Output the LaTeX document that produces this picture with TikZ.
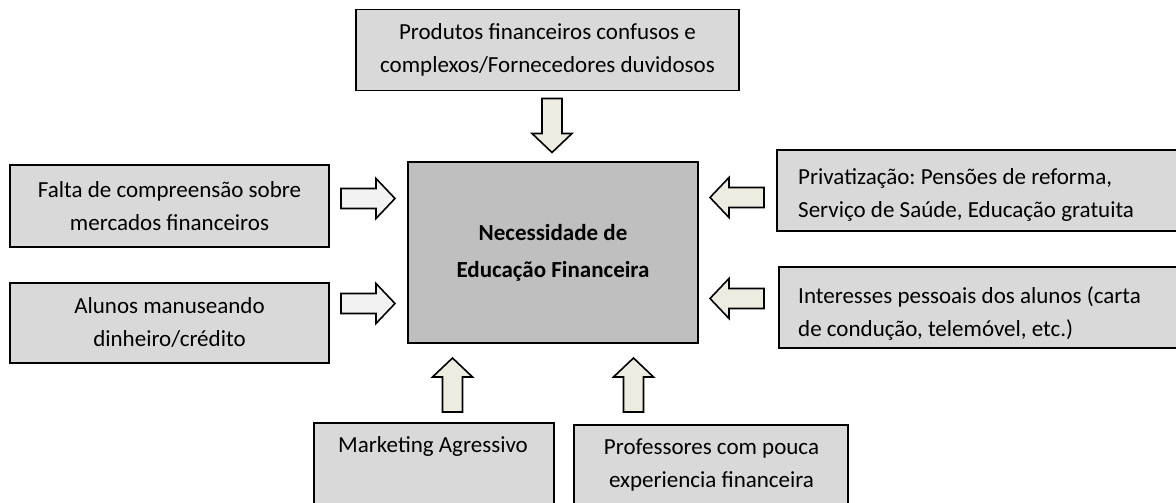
\documentclass[tikz,border=0pt]{standalone}
\usepackage{fontspec}
\setmainfont{Carlito}
\frenchspacing
\definecolor{boxgray}{HTML}{D9D9D9}
\definecolor{centergray}{HTML}{BFBFBF}
\definecolor{arrowbeige}{HTML}{EEECE1}
\definecolor{arrowlight}{HTML}{F2F2F2}
\newcommand\blockarrow[4]{%
  \draw[blockarrowstyle, fill=#4, shift={(#1,#2)}, rotate=#3]
    (-27,-10) -- (8,-10) -- (8,-20) -- (27,0) -- (8,20) -- (8,10) -- (-27,10) -- cycle;}
\begin{document}
\begin{tikzpicture}[x=1pt,y=-1pt,
  box/.style={draw=black, line width=1.6pt, fill=boxgray, inner sep=0pt, align=center,
    font=\fontsize{23}{33}\selectfont},
  centerbox/.style={box, fill=centergray, font=\fontsize{23}{37}\selectfont\bfseries},
  txt/.style={inner sep=0pt, font=\fontsize{23}{33}\selectfont},
  blockarrowstyle/.style={draw=black, line width=1.6pt, line join=miter}]
\useasboundingbox (0,0) rectangle (1176,503);
% boxes
\node[box, minimum width=383pt, minimum height=81pt] (top) at (547.5,50)
  {Produtos financeiros confusos e\\complexos/Fornecedores duvidosos};
\node[centerbox, minimum width=290pt, minimum height=181pt] (center) at (553,252.5)
  {Necessidade de\\Educação Financeira};
\node[box, minimum width=319pt, minimum height=82pt] (left1) at (169.5,206)
  {Falta de compreensão sobre\\mercados financeiros};
\node[box, minimum width=319pt, minimum height=80pt] (left2) at (169.5,323)
  {Alunos manuseando\\dinheiro/crédito};
\node[box, minimum width=413pt, minimum height=81pt] (right1) at (983.5,190.5) {};
\node[box, minimum width=411pt, minimum height=81pt] (right2) at (984.5,307.5) {};
\node[box, minimum width=240pt, minimum height=100pt] (bot1) at (434,473) {};
\node[box, minimum width=274pt, minimum height=100pt] (bot2) at (711,475) {};
% texts inside boxes
\node[txt, anchor=west, align=left] (right1t) at (798,195)
  {Privatização: Pensões de reforma,\\Serviço de Saúde, Educação gratuita};
\node[txt, anchor=west, align=left] (right2t) at (798,314)
  {Interesses pessoais dos alunos (carta\\de condução, telemóvel, etc.)};
\node[txt] (bot1t) at (433,446) {Marketing Agressivo};
\node[txt, align=center] (bot2t) at (711.5,465) {Professores com pouca\\experiencia financeira};
% block arrows
\blockarrow{552}{125.5}{-90}{arrowbeige}
\blockarrow{368}{198.5}{0}{arrowlight}
\blockarrow{368}{303.5}{0}{arrowlight}
\blockarrow{737}{197.5}{180}{arrowbeige}
\blockarrow{737}{298.5}{180}{arrowbeige}
\blockarrow{452.5}{385}{90}{arrowbeige}
\blockarrow{633.5}{385}{90}{arrowbeige}
\end{tikzpicture}
\end{document}
